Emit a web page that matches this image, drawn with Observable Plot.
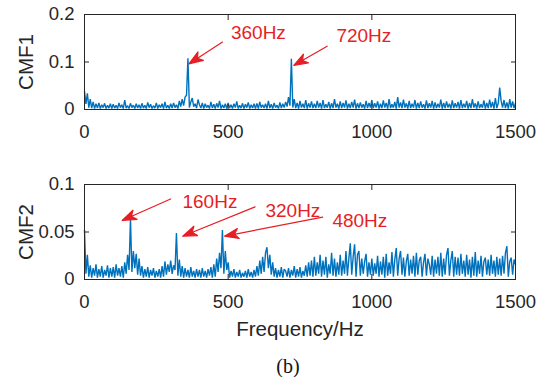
<!DOCTYPE html>
<html>
<head>
<meta charset="utf-8">
<script src="https://cdn.jsdelivr.net/npm/d3@7"></script>
<script src="https://cdn.jsdelivr.net/npm/@observablehq/plot@0.6"></script>
<style>
  body { margin: 0; background: #fff; }
  #figure { position: relative; width: 542px; height: 377px; color: #262626; }
  #figure svg { position: absolute; left: 0; overflow: visible; }
  #caption {
    position: absolute; left: 288px; top: 366px; transform: translate(-50%, -50%);
    font-family: "Liberation Serif", "Times New Roman", serif; font-size: 20px; color: #111;
  }
</style>
</head>
<body>
<div id="figure"><div id="caption">(b)</div></div>
<script>
// Frequency spacing of the spectrum bins (Hz)
const step = 5;

// CMF1 amplitude spectrum, 0–1500 Hz, in units of 0.001
const cmf1 = [
  38,12,34,4,22,3,16,2,12,3,14,2,10,4,13,2,9,3,12,2,
  11,3,9,2,14,4,10,2,20,3,8,2,13,4,9,2,12,3,10,2,
  13,3,9,2,15,4,11,2,8,3,14,2,10,4,12,2,16,3,9,2,
  12,3,14,4,10,2,18,6,22,8,26,30,108,4,16,24,6,12,3,21,
  10,3,14,2,12,4,9,2,16,3,11,2,13,4,18,2,10,3,12,2,
  14,3,10,2,12,4,17,2,9,3,13,2,11,4,15,2,10,3,12,2,
  13,2,16,4,10,3,12,2,18,3,11,2,14,4,9,2,15,3,12,4,
  16,6,26,8,107,4,22,3,14,2,18,4,12,3,20,2,13,4,17,3,
  12,3,18,4,14,2,20,3,11,4,16,2,13,3,22,4,12,2,17,3,
  14,4,19,2,12,3,16,4,21,2,13,3,15,4,11,2,18,3,14,4,
  20,3,13,4,17,2,12,3,19,4,14,2,22,3,11,4,16,2,26,4,
  15,3,21,4,13,2,18,3,12,4,20,2,14,3,17,4,11,2,19,3,
  13,4,18,2,15,3,12,4,21,2,14,3,17,4,12,2,19,3,13,4,
  16,2,20,3,12,4,18,2,14,3,22,4,13,2,17,3,11,4,19,2,
  14,3,21,4,16,2,24,3,13,46,18,4,20,3,15,2,22,4,17,3,
  14
];

// CMF2 amplitude spectrum, 0–1500 Hz, in units of 0.001
const cmf2 = [
  52,6,26,3,15,2,12,4,16,2,11,3,14,2,10,4,15,2,12,3,
  13,2,16,4,12,3,14,2,18,6,26,10,64,8,30,12,27,5,22,4,
  14,2,11,3,13,2,10,4,12,2,9,3,11,2,14,3,19,5,16,8,
  20,6,15,10,49,4,21,3,14,2,12,3,10,2,13,3,9,2,11,3,
  10,2,12,3,9,2,11,4,13,2,16,3,22,8,28,12,52,6,30,10,
  18,2,9,3,11,2,8,3,10,2,7,3,9,2,11,3,8,2,10,3,
  14,4,20,6,24,8,28,34,12,26,5,18,3,12,2,10,3,13,2,11,
  9,3,12,2,10,4,14,2,11,3,13,2,9,4,15,3,18,4,20,3,
  24,4,18,6,26,3,20,5,24,2,16,6,28,4,22,3,18,5,26,4,
  20,6,30,4,22,38,5,24,37,3,26,30,4,22,6,19,27,3,18,5,
  22,4,17,6,25,3,19,5,24,2,27,4,18,6,29,3,21,33,4,22,
  30,5,23,3,19,27,4,21,6,25,3,28,5,20,24,3,18,27,4,22,
  16,5,25,3,21,6,24,4,28,3,22,5,26,33,4,20,30,3,24,5,
  23,4,27,6,20,3,26,5,21,2,24,4,29,3,20,6,25,3,19,23,
  5,21,4,26,6,20,3,24,5,22,4,25,6,28,35,3,19,23,5,21,
  16
];

// Axis ticks and labels
const xTicks = [0, 500, 1000, 1500];
const cmf1Ticks = [0, 0.1, 0.2];
const cmf2Ticks = [0, 0.05, 0.1];
const xTitle = "Frequency/Hz";

// Characteristic frequencies marked on each spectrum (Hz)
const cmf1Peaks = [360, 720];
const cmf2Peaks = [160, 320, 480];

const blue = "#0072bd";
const red = "#e61e25";
const ink = "#262626";

// Filled arrowhead with a thin shaft; the tip sits at the anchor point
const arrowShape = {
  draw(context, l) {
    const h = 14, w = 5;
    context.moveTo(0, 0);
    context.lineTo(0, -l + h * 0.7);
    context.moveTo(0, -l);
    context.lineTo(w, -l + h);
    context.lineTo(0, -l + h * 0.72);
    context.lineTo(-w, -l + h);
    context.closePath();
  }
};

function spectrumPanel({values, yMax, yTicks, yLabel, peaks, notes, height, marginTop, marginBottom, withTitle}) {
  const series = values.map((v, i) => ({f: i * step, v: v / 1000}));
  const peakRows = peaks.map((f) => ({f, v: values[f / step] / 1000, label: `${f}Hz`}));
  const annotationMarks = peakRows.flatMap((d, i) => {
    const n = notes[i];
    return [
      Plot.vector([d], {
        x: "f", y: "v", dx: n.dx, dy: n.dy, length: n.length, rotate: n.rotate,
        anchor: "end", shape: arrowShape, stroke: red, fill: red, strokeWidth: 1.2
      }),
      Plot.text([d], {
        x: "f", y: "v", text: "label", dx: n.tx, dy: n.ty, textAnchor: "start",
        fill: red, fontSize: 19
      })
    ];
  });
  return Plot.plot({
    width: 542,
    height,
    marginLeft: 84,
    marginRight: 27,
    marginTop,
    marginBottom,
    style: {fontFamily: '"Liberation Sans", Arial, sans-serif', fontSize: "18.5px", color: ink, background: "transparent"},
    x: {domain: [0, 1500]},
    y: {domain: [0, yMax]},
    marks: [
      Plot.line(series, {x: "f", y: "v", stroke: blue, strokeWidth: 1.4, strokeLinejoin: "miter"}),
      Plot.frame({stroke: ink, strokeWidth: 1}),
      Plot.axisX({ticks: xTicks, tickSize: -5, tickPadding: 20, tickFormat: (d) => `${d}`, label: null}),
      Plot.axisX({anchor: "top", ticks: xTicks, tickSize: -5, tickFormat: () => "", label: null}),
      Plot.axisY({ticks: yTicks, tickSize: -5, tickPadding: 15, tickFormat: (d) => `${d}`, label: null}),
      Plot.axisY({anchor: "right", ticks: yTicks, tickSize: -5, tickFormat: () => "", label: null}),
      Plot.text([yLabel], {frameAnchor: "left", textAnchor: "middle", lineAnchor: "middle", rotate: -90, dx: -58, fontSize: 20.5, fill: ink}),
      withTitle ? Plot.text([xTitle], {frameAnchor: "bottom", textAnchor: "middle", lineAnchor: "middle", dy: 50, fontSize: 20.5, fill: ink}) : null,
      ...annotationMarks
    ]
  });
}

const upperPanel = spectrumPanel({
  values: cmf1, yMax: 0.2, yTicks: cmf1Ticks, yLabel: "CMF1", peaks: cmf1Peaks,
  notes: [
    {dx: 1, dy: 5.6, length: 40, rotate: 237, tx: 43, ty: -25},
    {dx: 2.4, dy: 6.8, length: 38.5, rotate: 240, tx: 45, ty: -23}
  ],
  height: 150, marginTop: 14, marginBottom: 41, withTitle: false
});
upperPanel.style.top = "0px";

const lowerPanel = spectrumPanel({
  values: cmf2, yMax: 0.1, yTicks: cmf2Ticks, yLabel: "CMF2", peaks: cmf2Peaks,
  notes: [
    {dx: -8.3, dy: 1.8, length: 53, rotate: 246, tx: 52, ty: -17},
    {dx: 6.3, dy: 3.2, length: 78, rotate: 248, tx: 89, ty: -22.5},
    {dx: 2.1, dy: 6.1, length: 100, rotate: 259, tx: 110, ty: -9.6}
  ],
  height: 227, marginTop: 34, marginBottom: 98, withTitle: true
});
lowerPanel.style.top = "150px";

const figure = document.getElementById("figure");
figure.prepend(lowerPanel);
figure.prepend(upperPanel);
</script>
</body>
</html>
